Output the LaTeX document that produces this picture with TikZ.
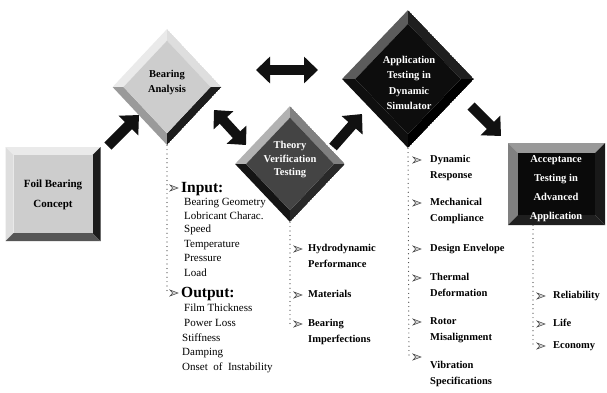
\documentclass[tikz,border=0pt]{standalone}
\usepackage{fontspec}
\setmainfont{Liberation Serif}
\usetikzlibrary{shapes.geometric,calc,arrows.meta}

\definecolor{ink}{HTML}{111111}
\definecolor{paleA}{HTML}{EAEAEA}
\definecolor{paleB}{HTML}{DEDEDE}
\definecolor{faceL}{HTML}{CDCDCD}
\definecolor{midG}{HTML}{9A9A9A}
\definecolor{darkG}{HTML}{555555}
\definecolor{deep}{HTML}{1C1C1C}
\definecolor{faceD}{HTML}{444444}
\definecolor{dotG}{HTML}{404040}

% inset of the inner face of a bevelled diamond (fraction of the half diagonal)
\newcommand\bevratio{0.8}

\tikzset{
  % bevelled diamond: top-left, top-right, bottom-left, bottom-right, face
  diamfacets/.style n args={5}{path picture={
      \coordinate (pn) at (path picture bounding box.north);
      \coordinate (pe) at (path picture bounding box.east);
      \coordinate (ps) at (path picture bounding box.south);
      \coordinate (pw) at (path picture bounding box.west);
      \coordinate (pc) at (path picture bounding box.center);
      \coordinate (qn) at ($(pc)!\bevratio!(pn)$);
      \coordinate (qe) at ($(pc)!\bevratio!(pe)$);
      \coordinate (qs) at ($(pc)!\bevratio!(ps)$);
      \coordinate (qw) at ($(pc)!\bevratio!(pw)$);
      \fill[#1] (pn) -- (pw) -- (qw) -- (qn) -- cycle;
      \fill[#2] (pn) -- (pe) -- (qe) -- (qn) -- cycle;
      \fill[#3] (ps) -- (pw) -- (qw) -- (qs) -- cycle;
      \fill[#4] (ps) -- (pe) -- (qe) -- (qs) -- cycle;
      \fill[#5] (qn) -- (qe) -- (qs) -- (qw) -- cycle;
  }},
  % bevelled square: top, left, right, bottom, face, bevel width (pt)
  rectfacets/.style n args={6}{path picture={
      \coordinate (rnw) at (path picture bounding box.north west);
      \coordinate (rne) at (path picture bounding box.north east);
      \coordinate (rse) at (path picture bounding box.south east);
      \coordinate (rsw) at (path picture bounding box.south west);
      \coordinate (snw) at ($(rnw)+(#6pt,-#6pt)$);
      \coordinate (sne) at ($(rne)+(-#6pt,-#6pt)$);
      \coordinate (sse) at ($(rse)+(-#6pt,#6pt)$);
      \coordinate (ssw) at ($(rsw)+(#6pt,#6pt)$);
      \fill[#1] (rnw) -- (rne) -- (sne) -- (snw) -- cycle;
      \fill[#2] (rnw) -- (rsw) -- (ssw) -- (snw) -- cycle;
      \fill[#3] (rne) -- (rse) -- (sse) -- (sne) -- cycle;
      \fill[#4] (rsw) -- (rse) -- (sse) -- (ssw) -- cycle;
      \fill[#5] (snw) -- (sne) -- (sse) -- (ssw) -- cycle;
  }},
  stagebox/.style={rectangle, inner sep=0pt},
  stagediam/.style={diamond, inner sep=0pt},
  stagelabel/.style={inner sep=0pt, align=center},
  blockarrow/.style={color=ink, line width=10pt,
      -{Triangle[width=27pt,length=15pt]}},
  twoway/.style={color=ink, line width=10pt,
      {Triangle[width=26pt,length=14pt]}-{Triangle[width=26pt,length=14pt]}},
  dots/.style={dotG, line width=1.2pt, line cap=round, dash pattern=on 0pt off 4.4pt},
  head/.style={anchor=west, inner sep=0pt, text height=11pt, text depth=3pt,
      font=\fontsize{15.5}{17}\selectfont\bfseries},
  plain/.style={anchor=west, inner sep=0pt, text height=8pt, text depth=2.5pt,
      font=\fontsize{11}{13}\selectfont},
  strong/.style={anchor=west, inner sep=0pt, text height=7.5pt, text depth=2.5pt,
      font=\fontsize{10.5}{12}\selectfont\bfseries},
  bul/.pic={\filldraw[fill=gray!35, draw=black!75, line width=0.5pt]
      (0,-3) -- (8,0) -- (0,3) -- (2.6,0) -- cycle;},
}

\begin{document}
\begin{tikzpicture}[x=1pt,y=-1pt]
\useasboundingbox (0,0) rectangle (607,392);
\fill[white] (0,0) rectangle (607,392);

% ---- stages ----
\node[stagebox, minimum width=95pt, minimum height=94pt,
      rectfacets={paleA}{paleB}{deep}{darkG}{faceL}{8}] (foil) at (53,194) {};
\node[stagelabel, font=\fontsize{11}{20}\selectfont\bfseries] (foil-l) at (53,195)
      {Foil Bearing\\Concept};

\node[stagediam, minimum width=109pt, minimum height=116pt,
      diamfacets={paleA}{paleB}{midG}{deep}{faceL}] (ba) at (167,87) {};
\node[stagelabel, font=\fontsize{10.5}{15}\selectfont\bfseries] (ba-l) at (167,82.5)
      {Bearing\\Analysis};

\node[stagediam, minimum width=110pt, minimum height=116pt,
      diamfacets={black!30}{black!50}{black!92}{black!84}{faceD}] (tv) at (290,164) {};
\node[stagelabel, text=white, font=\fontsize{10.5}{13.5}\selectfont\bfseries] (tv-l) at (290,160)
      {Theory\\Verification\\Testing};

\node[stagediam, minimum width=132pt, minimum height=138pt,
      diamfacets={black!64}{black!88}{black!94}{black}{black!95}] (app) at (408,79) {};
\node[stagelabel, text=white, font=\fontsize{10.5}{15.3}\selectfont\bfseries] (app-l) at (409,83)
      {Application\\Testing in\\Dynamic\\Simulator};

\node[stagebox, minimum width=97pt, minimum height=82pt,
      rectfacets={black!40}{black!50}{black!90}{black!88}{black!96}{10}] (acc) at (556.5,184) {};
\node[stagelabel, text=white, font=\fontsize{10.5}{19}\selectfont\bfseries] (acc-l) at (556,189)
      {Acceptance\\Testing in\\Advanced\\Application};

% ---- block arrows between stages ----
\coordinate (a1t) at (108,146); \coordinate (a1h) at (139,115);
\coordinate (a2a) at (214,110); \coordinate (a2b) at (246,145);
\coordinate (a3a) at (256,70);  \coordinate (a3b) at (318,70);
\coordinate (a4t) at (333,147); \coordinate (a4h) at (362,114);
\coordinate (a5t) at (471,106); \coordinate (a5h) at (501,136);
\draw[blockarrow] (a1t) -- (a1h);
\draw[twoway] (a2a) -- (a2b);
\draw[twoway] (a3a) -- (a3b);
\draw[blockarrow] (a4t) -- (a4h);
\draw[blockarrow] (a5t) -- (a5h);

% ---- Bearing Analysis: inputs and outputs ----
\coordinate (baend) at (167,293);
\draw[dots] (ba.south) -- (baend);
\pic at (170,188) {bul};
\pic at (170,293) {bul};
\node[head]  (inh) at (181,188) {Input:};
\node[plain] (i1) at (184,203) {Bearing Geometry};
\node[plain] (i2) at (184,216.5) {Lobricant Charac.};
\node[plain] (i3) at (184,230) {Speed};
\node[plain] (i4) at (184,244.5) {Temperature};
\node[plain] (i5) at (184,259) {Pressure};
\node[plain] (i6) at (184,273.5) {Load};
\node[head]  (outh) at (181,293) {Output:};
\node[plain] (o1) at (184,309) {Film Thickness};
\node[plain] (o2) at (184,324) {Power Loss};
\node[plain] (o3) at (182,338.5) {Stiffness};
\node[plain] (o4) at (182,353) {Damping};
\node[plain] (o5) at (182,368) {Onset\ \ of\ \ Instability};

% ---- Theory Verification Testing ----
\coordinate (tvend) at (290,324);
\draw[dots] (tv.south) -- (tvend);
\pic at (294,249) {bul};
\pic at (294,295) {bul};
\pic at (294,324) {bul};
\node[strong] (t1a) at (308,249) {Hydrodynamic};
\node[strong] (t1b) at (308,265) {Performance};
\node[strong] (t2)  at (308,295) {Materials};
\node[strong] (t3a) at (308,324) {Bearing};
\node[strong] (t3b) at (308,340) {Imperfections};

% ---- Application Testing in Dynamic Simulator ----
\coordinate (append) at (409,357);
\draw[dots] (app.south) -- (append);
\pic at (413,160) {bul};
\pic at (413,203) {bul};
\pic at (413,249) {bul};
\pic at (413,278) {bul};
\pic at (413,322) {bul};
\pic at (413,357) {bul};
\node[strong] (d1a) at (430,160) {Dynamic};
\node[strong] (d1b) at (430,176) {Response};
\node[strong] (d2a) at (430,203) {Mechanical};
\node[strong] (d2b) at (430,219) {Compliance};
\node[strong] (d3)  at (430,249) {Design Envelope};
\node[strong] (d4a) at (430,278) {Thermal};
\node[strong] (d4b) at (430,294) {Deformation};
\node[strong] (d5a) at (430,322) {Rotor};
\node[strong] (d5b) at (430,338) {Misalignment};
\node[strong] (d6a) at (430,366) {Vibration};
\node[strong] (d6b) at (430,382) {Specifications};

% ---- Acceptance Testing in Advanced Application ----
\coordinate (accend) at (533,346);
\draw[dots] (acc.south -| accend) -- (accend);
\pic at (537,296) {bul};
\pic at (537,324) {bul};
\pic at (537,346) {bul};
\node[strong] (e1) at (553,296) {Reliability};
\node[strong] (e2) at (553,324) {Life};
\node[strong] (e3) at (553,346) {Economy};
\end{tikzpicture}
\end{document}
